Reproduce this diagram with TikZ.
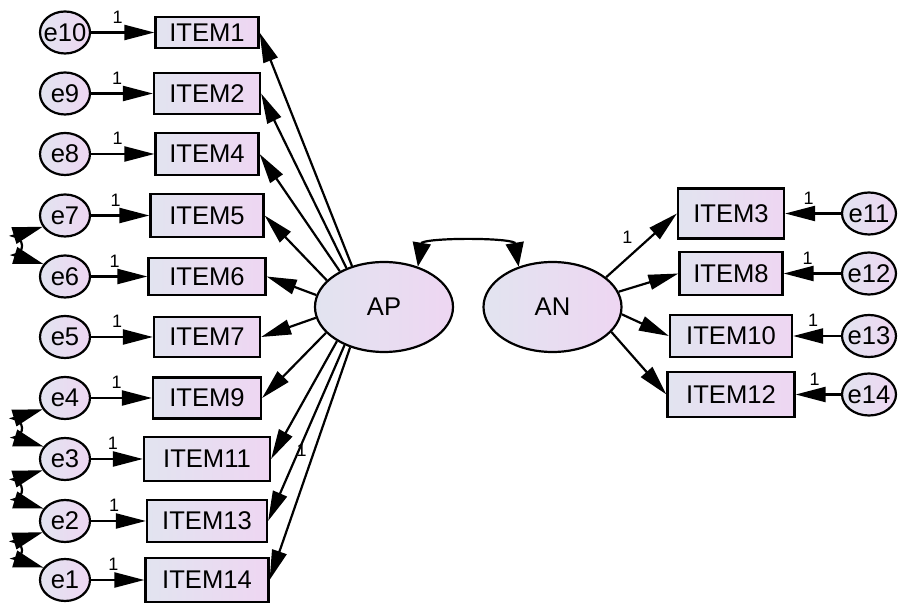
\documentclass[tikz,border=0pt]{standalone}
\usepackage{fontspec}
\setmainfont{Liberation Sans}
\usetikzlibrary{arrows.meta,shapes.geometric,calc}
\definecolor{lavleft}{RGB}{226,228,240}
\definecolor{lavright}{RGB}{238,214,242}

\begin{document}
\begin{tikzpicture}[x=0.5pt,y=-0.5pt,line width=1.1pt,
    every node/.style={font=\fontsize{12.8}{15}\selectfont,inner sep=0pt},
    obs/.style={draw,rectangle,left color=lavleft,right color=lavright},
    err/.style={draw,ellipse,left color=lavleft,right color=lavright,inner xsep=-2pt,minimum width=25pt,minimum height=21pt},
    lat/.style={draw,ellipse,left color=lavleft,right color=lavright,minimum width=69pt,minimum height=45pt},
    load/.style={-{Triangle[length=15pt,width=7.5pt]}},
    cov/.style={<->,>={Triangle[length=15pt,width=8.5pt]}},
    latcov/.style={<->,>={Triangle[length=12pt,width=9pt]}},
    one/.style={font=\fontsize{9}{10}\selectfont}]
    \useasboundingbox (0,0) rectangle (899,608);
    \node[lat] (AP) at (384,307) {AP};
    \node[lat] (AN) at (552.5,307) {AN};
    \foreach \e/\i/\y/\w/\h in {10/1/32.5/51.5/15.5, 9/2/93.5/53/20.5, 8/4/154/51.5/21, 7/5/215.5/56.5/21.5,
            6/6/276.5/58.5/18.5, 5/7/337/53/20, 4/9/398/54/20.5, 3/11/459/63/22, 2/13/521/60/21, 1/14/580/61.5/22}{
        \node[err] (e\e) at (65,\y) {e\e};
        \node[obs,minimum width=\w pt,minimum height=\h pt] (i\i) at (207,\y) {ITEM\i};
        \draw[load] (e\e) -- node[one,pos=.42,above=4pt]{1} (i\i);
    }
    \foreach \e/\i/\y/\w/\h in {11/3/213.5/53/25, 12/8/273.5/51.5/21.5, 13/10/336/61/21, 14/12/394.5/63.5/22.5}{
        \node[err,minimum width=27pt] (e\e) at (869,\y) {e\e};
        \node[obs,minimum width=\w pt,minimum height=\h pt] (i\i) at (731,\y) {ITEM\i};
        \draw[load] (e\e) -- node[one,pos=.58,above=4pt]{1} (i\i);
    }
    \foreach \i/\a in {1/128, 2/134, 4/141, 5/155, 6/170, 7/189, 9/204, 11/216, 14/230}
        \draw[load] (AP.\a) -- (i\i.east);
    \draw[load] (AP.224) -- node[one,pos=.6,xshift=1.5pt]{1} (i13.east);
    \draw[load] (AN.29) -- node[one,pos=.3,above=7pt]{1} (i3.west);
    \foreach \i/\a in {8/13, 10/-6, 12/-23}
        \draw[load] (AN.\a) -- (i\i.west);
    \draw[latcov] (AP.50) -- ++(4,-24) .. controls +(10,-5) and +(-10,-5) .. ($(AN.130)+(-4,-24)$) -- (AN.130);
    \foreach \upper/\lower in {7/6, 4/3, 3/2, 2/1}
        \draw[cov] (e\upper.207) -- ++(-30,9) .. controls +(12,2) and +(12,-2) .. ($(e\lower.150)+(-30,-9)$) -- (e\lower.150);
\end{tikzpicture}
\end{document}
